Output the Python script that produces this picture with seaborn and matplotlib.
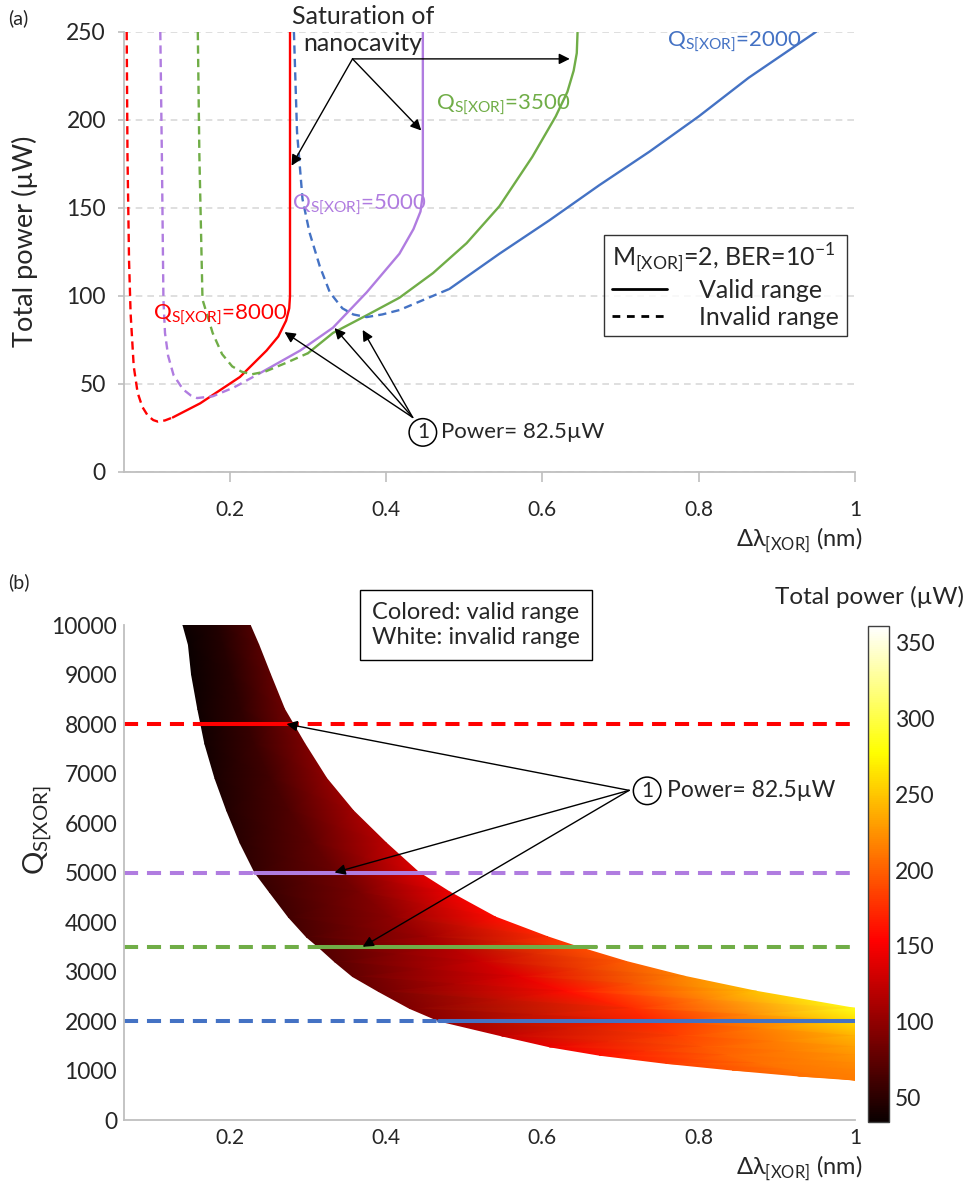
import matplotlib
matplotlib.use("Agg")
import matplotlib.pyplot as plt
from matplotlib.lines import Line2D
import seaborn as sns
import pandas as pd
import numpy as np

# ---------------- panel (a): total power vs detuning ----------------
# Q = 8000 (red)
q8000_dash_x = [0.068, 0.069, 0.071, 0.073, 0.077, 0.082, 0.088, 0.095, 0.102, 0.108, 0.117, 0.127]
q8000_dash_y = [250, 180, 120, 90, 60, 45, 37, 32, 29.5, 28.6, 29.3, 31]
q8000_solid_x = [0.127, 0.162, 0.213, 0.247, 0.262, 0.272, 0.276, 0.277, 0.277]
q8000_solid_y = [31, 39, 54, 69, 77, 86, 93, 100, 250]
# Q = 5000 (purple)
q5000_dash_x = [0.111, 0.113, 0.115, 0.117, 0.121, 0.128, 0.140, 0.150, 0.158, 0.178, 0.205, 0.238]
q5000_dash_y = [250, 180, 98, 79, 66, 55, 47, 43.5, 42, 43, 48, 56]
q5000_solid_x = [0.238, 0.29, 0.332, 0.375, 0.417, 0.435, 0.444, 0.447, 0.447]
q5000_solid_y = [56, 69, 82, 102, 124, 138, 148, 158, 250]
# Q = 3500 (green)
q3500_dash_x = [0.159, 0.161, 0.165, 0.178, 0.19, 0.203, 0.215, 0.228, 0.245, 0.272, 0.30]
q3500_dash_y = [250, 180, 98, 79, 67, 60, 57, 55.5, 57, 62, 67.5]
q3500_solid_x = [0.30, 0.332, 0.375, 0.417, 0.46, 0.503, 0.545, 0.587, 0.617, 0.632, 0.640, 0.644, 0.645]
q3500_solid_y = [67.5, 79, 89, 99, 113, 130, 151, 179, 202, 216, 228, 238, 250]
# Q = 2000 (blue)
q2000_dash_x = [0.282, 0.286, 0.293, 0.302, 0.315, 0.328, 0.344, 0.358, 0.375, 0.395, 0.417, 0.481]
q2000_dash_y = [250, 193, 155, 136, 117, 102, 93, 89.5, 88, 89.5, 92, 104]
q2000_solid_x = [0.481, 0.545, 0.609, 0.673, 0.737, 0.80, 0.864, 0.95]
q2000_solid_y = [104, 124, 143, 163, 182, 202, 224, 250]

q_names = ["8000", "5000", "3500", "2000"]
q_colors = ["#FF0000", "#B07CE0", "#70AD47", "#4472C4"]

# ---------------- panel (b): valid band in (delta lambda, Q) ----------------
band_q = [10000, 9600, 9000, 8300, 7600, 6900, 6250, 5600, 5000, 4600, 4100, 3700, 3500,
          3200, 2900, 2600, 2256, 2000, 1700, 1480, 1310, 1145, 1010, 890, 808]
band_left = [0.140, 0.147, 0.151, 0.159, 0.168, 0.181, 0.196, 0.213, 0.232, 0.251, 0.275, 0.298, 0.313,
             0.334, 0.357, 0.390, 0.430, 0.468, 0.548, 0.609, 0.673, 0.758, 0.843, 0.928, 1.000]
band_right = [0.226, 0.237, 0.252, 0.270, 0.296, 0.324, 0.358, 0.400, 0.442, 0.482, 0.540, 0.607, 0.645,
              0.708, 0.783, 0.874, 1.000, 1.000, 1.000, 1.000, 1.000, 1.000, 1.000, 1.000, 1.000]
power_left = [34, 34, 35, 37, 39, 42, 46, 50, 55, 58, 62, 66, 69,
              73, 78, 84, 92, 100, 125, 145, 160, 180, 195, 207, 213]
power_mid = [45, 47, 49, 53, 57, 62, 68, 75, 82, 88, 98, 108, 115,
             128, 140, 160, 175, 170, 185, 195, 202, 208, 211, 213, 213]
power_right = [66, 70, 75, 82, 90, 98, 108, 120, 138, 145, 158, 175, 188,
               198, 218, 248, 285, 262, 242, 232, 226, 221, 217, 215, 213]

# horizontal Q lines in (b): valid (solid) span
line_q = [8000, 5000, 3500, 2000]
valid_start = [0.162, 0.232, 0.302, 0.468]
valid_end = [0.2725, 0.448, 0.669, 1.0]

cbar_ticks = [50, 100, 150, 200, 250, 300, 350]
p_min, p_max = 34, 361
x_ticks = [0.2, 0.4, 0.6, 0.8, 1.0]
x_ticklabels = ["0.2", "0.4", "0.6", "0.8", "1"]

sns.set_style("white")
plt.rcParams["font.family"] = ["Lato", "DejaVu Sans"]
plt.rcParams["mathtext.fontset"] = "custom"
plt.rcParams["mathtext.rm"] = "Lato"
plt.rcParams["mathtext.fallback"] = "stixsans"

GRAY = "#BFBFBF"
DASH = (0, (3.5, 2.2))


def seg(ax, xs, ys, color, dashed, lw):
    df = pd.DataFrame({"x": xs, "y": ys})
    sns.lineplot(data=df, x="x", y="y", ax=ax, color=color, lw=lw, sort=False,
                 estimator=None, linestyle=DASH if dashed else "-")


def qlab(v):
    return "Q$_{\\mathregular{S[XOR]}}$=" + v


fig = plt.figure(figsize=(9.7, 11.88), dpi=100)
ax1 = fig.add_axes([0.1278, 0.6027, 0.7536, 0.3704])
ax2 = fig.add_axes([0.1278, 0.0572, 0.7536, 0.4167])
cax = fig.add_axes([0.8948, 0.0556, 0.0217, 0.4175])

# ---- (a)
curves = [
    (q8000_dash_x, q8000_dash_y, q8000_solid_x, q8000_solid_y),
    (q5000_dash_x, q5000_dash_y, q5000_solid_x, q5000_solid_y),
    (q3500_dash_x, q3500_dash_y, q3500_solid_x, q3500_solid_y),
    (q2000_dash_x, q2000_dash_y, q2000_solid_x, q2000_solid_y),
]
for (dx, dy, sx, sy), c in zip(curves, q_colors):
    seg(ax1, dx, dy, c, True, 1.7)
    seg(ax1, sx, sy, c, False, 1.7)

ax1.set_xlim(0.0645, 1.0)
ax1.set_ylim(0, 250)
ax1.set_yticks([0, 50, 100, 150, 200, 250])
ax1.set_xticks(x_ticks)
ax1.set_xticklabels(x_ticklabels)
ax1.yaxis.grid(True, color="#D9D9D9", linestyle=(0, (4, 3)), lw=1.2)
ax1.set_axisbelow(True)
for s in ["top", "right"]:
    ax1.spines[s].set_visible(False)
for s in ["left", "bottom"]:
    ax1.spines[s].set_color(GRAY)
    ax1.spines[s].set_linewidth(1.3)
ax1.tick_params(axis="x", direction="out", length=7, width=1.2, color=GRAY, pad=13, labelsize=15)
ax1.tick_params(axis="y", direction="out", length=4, width=1.2, color=GRAY, pad=9, labelsize=16.5)
ax1.tick_params(left=True, bottom=True)
ax1.set_ylabel("Total power (µW)", fontsize=19.5)
ax1.yaxis.set_label_coords(-0.118, 0.525)
ax1.set_xlabel("Δλ$_{\\mathregular{[XOR]}}$ (nm)", fontsize=17, ha="right", va="center")
ax1.xaxis.set_label_coords(1.0096, -0.1545)

ax1.text(0.1017, 89.2, qlab("8000"), color=q_colors[0], fontsize=16, va="center")
ax1.text(0.280, 151.7, qlab("5000"), color=q_colors[1], fontsize=16, va="center")
ax1.text(0.4642, 208.5, qlab("3500"), color=q_colors[2], fontsize=16, va="center")
ax1.text(0.7598, 244.3, qlab("2000"), color=q_colors[3], fontsize=16, va="center")

arrow = dict(arrowstyle="-|>", color="black", lw=1.0, mutation_scale=16, shrinkA=0, shrinkB=0)
ax1.text(0.370, 251, "Saturation of\nnanocavity", ha="center", va="center", fontsize=18,
         linespacing=1.2, clip_on=False)
for tx, ty in [(0.279, 174), (0.445, 194)]:
    ax1.annotate("", xy=(tx, ty), xytext=(0.357, 234.7), arrowprops=arrow, annotation_clip=False)
ax1.annotate("", xy=(0.635, 234.7), xytext=(0.357, 234.7), arrowprops=arrow, annotation_clip=False)

for tx, ty in [(0.270, 79.5), (0.334, 81.8), (0.370, 80.7)]:
    ax1.annotate("", xy=(tx, ty), xytext=(0.434, 31), arrowprops=arrow)
ax1.text(0.447, 22.5, "1", ha="center", va="center", fontsize=15,
         bbox=dict(boxstyle="circle,pad=0.18", fc="white", ec="black", lw=1.1))
ax1.text(0.470, 22.5, "Power= 82.5µW", ha="left", va="center", fontsize=16)

handles = [Line2D([], [], color="black", lw=2), Line2D([], [], color="black", lw=2, linestyle=(0, (2.8, 2.4)))]
leg = ax1.legend(handles, ["Valid range", "Invalid range"],
                 title="M$_{\\mathregular{[XOR]}}$=2, BER=10$^{\\mathregular{-1}}$",
                 loc="upper left", bbox_to_anchor=(0.657, 0.5386), frameon=True, fancybox=False,
                 fontsize=18, title_fontsize=18, handlelength=2.2, handletextpad=1.3,
                 borderpad=0.3, labelspacing=0.15, alignment="left", borderaxespad=0)
leg.get_frame().set_edgecolor("black")
leg.get_frame().set_linewidth(1.0)

# ---- (b)
bl = np.array(band_left)
br = np.array(band_right)
X = np.column_stack([bl, (bl + br) / 2, br])
Y = np.column_stack([band_q, band_q, band_q]).astype(float)
C = np.column_stack([power_left, power_mid, power_right]).astype(float)
mesh = ax2.pcolormesh(X, Y, C, shading="gouraud", cmap="hot", vmin=p_min, vmax=p_max,
                      rasterized=True)

for q, c, a, b in zip(line_q, q_colors, valid_start, valid_end):
    seg(ax2, [0.0645, 1.0], [q, q], c, True, 2.9)
    seg(ax2, [a, b], [q, q], c, False, 2.9)

for tx, ty in [(0.2725, 8000), (0.334, 5000), (0.370, 3500)]:
    ax2.annotate("", xy=(tx, ty), xytext=(0.711, 6660), arrowprops=arrow)
ax2.text(0.734, 6650, "1", ha="center", va="center", fontsize=15,
         bbox=dict(boxstyle="circle,pad=0.18", fc="white", ec="black", lw=1.1))
ax2.text(0.759, 6650, "Power= 82.5µW", ha="left", va="center", fontsize=16.5)

ax2.set_xlim(0.0645, 1.0)
ax2.set_ylim(0, 10000)
ax2.set_yticks(range(0, 10001, 1000))
ax2.set_xticks(x_ticks)
ax2.set_xticklabels(x_ticklabels)
for s in ["top", "right"]:
    ax2.spines[s].set_visible(False)
for s in ["left", "bottom"]:
    ax2.spines[s].set_color(GRAY)
    ax2.spines[s].set_linewidth(1.3)
ax2.tick_params(axis="x", length=0, pad=6, labelsize=15)
ax2.tick_params(axis="y", length=0, pad=5, labelsize=16.5)
ax2.set_ylabel("Q$_{\\mathregular{S[XOR]}}$", fontsize=21)
ax2.yaxis.set_label_coords(-0.095, 0.586)
ax2.set_xlabel("Δλ$_{\\mathregular{[XOR]}}$ (nm)", fontsize=17, ha="right", va="center")
ax2.xaxis.set_label_coords(1.0096, -0.097)

cb = fig.colorbar(mesh, cax=cax, ticks=cbar_ticks)
cb.outline.set_edgecolor("#404040")
cb.outline.set_linewidth(1.0)
cax.tick_params(direction="in", length=3, width=0.8, labelsize=16.5, pad=4)
fig.text(0.896, 0.4975, "Total power (µW)", ha="center", va="center", fontsize=17.5)

fig.text(476 / 970, (1188 - 625) / 1188, "Colored: valid range\nWhite: invalid range",
         ha="center", va="center", fontsize=17, linespacing=1.25,
         bbox=dict(boxstyle="square,pad=0.5", fc="white", ec="black", lw=1.0))

fig.text(8 / 970, (1188 - 18) / 1188, "(a)", fontsize=14, va="center")
fig.text(8 / 970, (1188 - 582) / 1188, "(b)", fontsize=14, va="center")

fig.savefig("out.png", dpi=100)
